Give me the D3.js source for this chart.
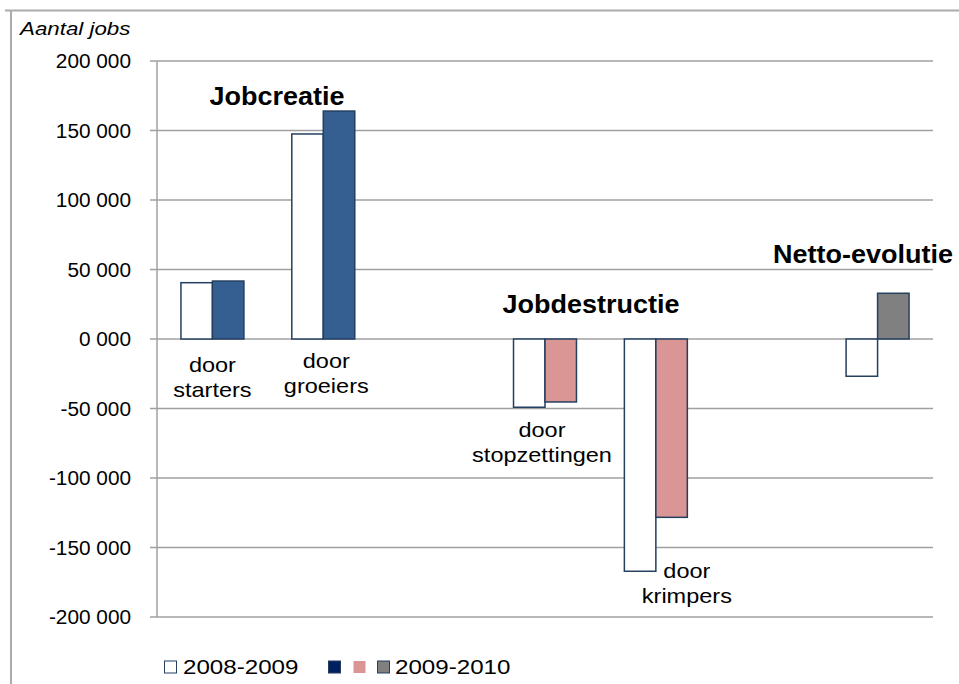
<!DOCTYPE html>
<html>
<head>
<meta charset="utf-8">
<script src="https://cdn.jsdelivr.net/npm/d3@7"></script>
<style>
  body { margin: 0; background: #fff; }
  text { font-family: "Liberation Sans", Arial, sans-serif; fill: #000; }
</style>
</head>
<body>
<script>
// data
var categories = ["starters", "groeiers", "gap1", "stopzettingen", "krimpers", "gap2", "netto"];
var catLabels = [["door", "starters"], ["door", "groeiers"], [], ["door", "stopzettingen"], ["door", "krimpers"], [], []];
var series = ["2008-2009", "2009-2010"];
var values0809 = [40500, 147500, null, -49100, -167100, null, -26800];
var values0910 = [41700, 164000, null, -45300, -128300, null, 32900];
var fill0910 = ["#355E91", "#355E91", null, "#D99694", "#D99694", null, "#808080"];
var tickValues = [-200000, -150000, -100000, -50000, 0, 50000, 100000, 150000, 200000];

var svg = d3.select("body").append("svg").attr("width", 959).attr("height", 684);

// outer frame (only top and left visible)
svg.append("line").attr("x1", 5).attr("x2", 959).attr("y1", 10.5).attr("y2", 10.5)
    .attr("stroke", "#ABABAB").attr("stroke-width", 2);
svg.append("line").attr("x1", 11).attr("x2", 11).attr("y1", 10).attr("y2", 684)
    .attr("stroke", "#ABABAB").attr("stroke-width", 2);

var y = d3.scaleLinear().domain([-200000, 200000]).range([617, 61]);
var x = d3.scaleBand().domain(categories).range([157, 933]).paddingInner(0.432).paddingOuter(0.216);
var xs = d3.scaleBand().domain(series).range([0, x.bandwidth()]);

var fmt = d3.formatLocale({decimal: ".", thousands: " ", grouping: [3], currency: ["", ""], minus: "-"}).format(",");
function tickText(v) { return v === 0 ? "0 000" : fmt(v); }

// draws text stretched a little horizontally, like the original rendering
function label(g, px, py, str, o) {
    return g.append("text")
        .attr("transform", "translate(" + px + "," + py + ") scale(" + (o.sx || 1) + ",1)")
        .attr("text-anchor", o.anchor || "start")
        .attr("font-size", o.size)
        .attr("font-weight", o.weight || "normal")
        .attr("font-style", o.style || "normal")
        .text(str);
}

// gridlines + tick marks
var grid = svg.append("g");
tickValues.forEach(function(t) {
    grid.append("line").attr("x1", 150).attr("x2", 933)
        .attr("y1", y(t)).attr("y2", y(t))
        .attr("stroke", "#A0A0A0").attr("stroke-width", 1.5);
    label(grid, 131, y(t) + 7.3, tickText(t), {size: 20, anchor: "end", sx: 1.04});
});
grid.append("line").attr("x1", 157).attr("x2", 157).attr("y1", y(200000)).attr("y2", y(-200000))
    .attr("stroke", "#A0A0A0").attr("stroke-width", 1.5);

label(svg, 20, 35, "Aantal jobs", {size: 18, style: "italic", sx: 1.24});

// bars
var bars = svg.append("g");
categories.forEach(function(c, i) {
    var pair = [[values0809[i], "#FFFFFF", series[0]], [values0910[i], fill0910[i], series[1]]];
    pair.forEach(function(p) {
        if (p[0] === null) return;
        bars.append("rect")
            .attr("x", x(c) + xs(p[2]))
            .attr("y", y(Math.max(0, p[0])))
            .attr("width", xs.bandwidth())
            .attr("height", Math.abs(y(p[0]) - y(0)))
            .attr("fill", p[1])
            .attr("stroke", "#243F60")
            .attr("stroke-width", 1.5);
    });
});

// category labels
var labPos = {
    starters: [0, 372],
    groeiers: [3, 368],
    stopzettingen: [-3, 437],
    krimpers: [31, 578]
};
var labs = svg.append("g");
categories.forEach(function(c, i) {
    if (!labPos[c]) return;
    var cx = x(c) + x.bandwidth() / 2 + labPos[c][0];
    catLabels[i].forEach(function(line, k) {
        label(labs, cx, labPos[c][1] + k * 25, line, {size: 21, anchor: "middle", sx: 1.12});
    });
});

// group titles
label(svg, 277, 105, "Jobcreatie", {size: 25, weight: "bold", anchor: "middle", sx: 1.08});
label(svg, 591, 313, "Jobdestructie", {size: 25, weight: "bold", anchor: "middle", sx: 1.08});
label(svg, 863, 263, "Netto-evolutie", {size: 25, weight: "bold", anchor: "middle", sx: 1.08});

// legend
var leg = svg.append("g");
function sq(px, col) {
    leg.append("rect").attr("x", px).attr("y", 661).attr("width", 12).attr("height", 12)
        .attr("fill", col).attr("stroke", "#243F60").attr("stroke-width", 1);
}
sq(164.5, "#FFFFFF");
label(leg, 183, 674, series[0], {size: 21, sx: 1.15});
sq(328.5, "#002060");
leg.append("rect").attr("x", 353.5).attr("y", 661).attr("width", 12).attr("height", 12).attr("fill", "#D99694");
sq(377.5, "#808080");
label(leg, 395, 674, series[1], {size: 21, sx: 1.15});
</script>
</body>
</html>
